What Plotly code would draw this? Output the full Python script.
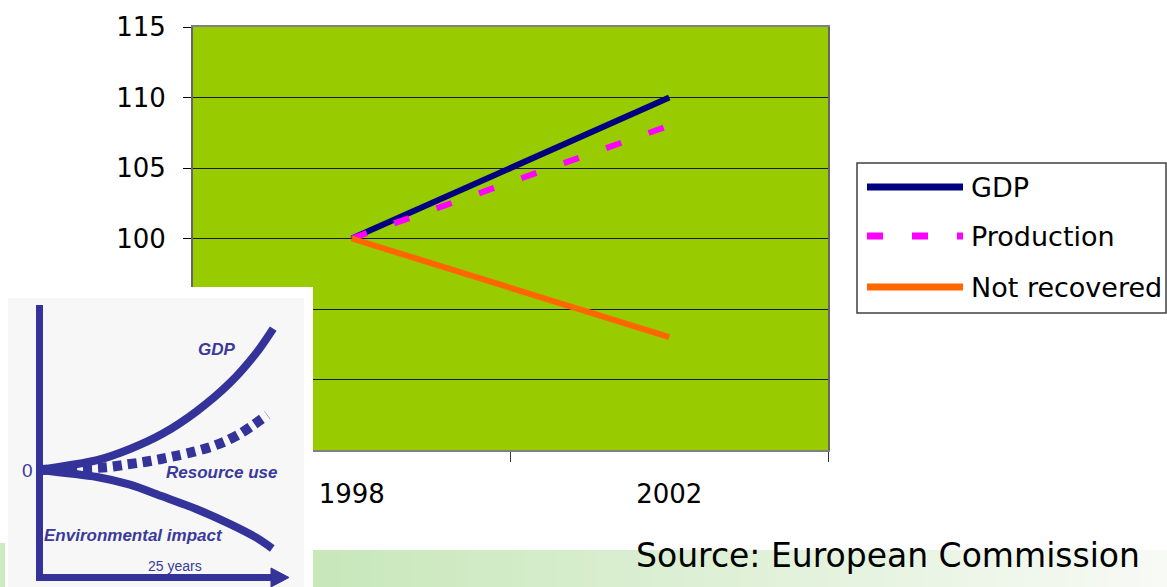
import plotly.graph_objects as go

W, H = 1167, 587

# ---------------- data ----------------
years = ["1998", "2002"]
gdp = [100, 110]
production = [100, 108]
not_recovered = [100, 93]
series_names = ["GDP", "Production", "Not recovered"]
y_ticks = [85, 90, 95, 100, 105, 110, 115]

# inset schematic (x: years 0-25, y: relative units)
inset_gdp_x = [0, 6.1, 9.5, 12.9, 16.4, 19.8, 22.6, 24.3]
inset_gdp_y = [0, 0.7, 1.5, 2.6, 4.2, 6.2, 8.4, 10.1]
inset_res_x = [0, 7.1, 9.2, 10.8, 12.6, 14.4, 16.0, 17.8, 19.5, 20.9, 22.2, 23.7]
inset_res_y = [0, 0.2, 0.4, 0.55, 0.77, 1.03, 1.29, 1.64, 2.1, 2.6, 3.2, 3.93]
inset_env_x = [0, 6.1, 9.5, 12.9, 16.4, 19.8, 22.6, 24.2]
inset_env_y = [0, -0.5, -1.05, -1.9, -2.8, -3.85, -4.85, -5.6]
inset_labels = ["GDP", "Resource use", "Environmental impact"]

# ---------------- helpers (pixel -> paper / inset coords) ----------------
def px(x):
    return x / W

def py(y):
    return 1 - y / H

def ix(p):
    return (p - 38) / 242 * 25

def iy(p):
    return (470 - p) / 14

FONT = "DejaVu Sans"
NAVY = "#000080"
MAGENTA = "#FF00FF"
ORANGE = "#FF6600"
INK = "#333399"
PDASH = "16px,29px"

fig = go.Figure()

fig.add_trace(go.Scatter(x=years, y=gdp, name=series_names[0], mode="lines",
                         line=dict(color=NAVY, width=6), showlegend=False))
fig.add_trace(go.Scatter(x=years, y=production, name=series_names[1], mode="lines",
                         line=dict(color=MAGENTA, width=6, dash=PDASH), showlegend=False))
fig.add_trace(go.Scatter(x=years, y=not_recovered, name=series_names[2], mode="lines",
                         line=dict(color=ORANGE, width=6), showlegend=False))

# inset traces
fig.add_trace(go.Scatter(x=inset_gdp_x, y=inset_gdp_y, xaxis="x2", yaxis="y2", mode="lines",
                         line=dict(color=INK, width=8, shape="spline", smoothing=0.8), showlegend=False))
fig.add_trace(go.Scatter(x=inset_res_x, y=inset_res_y, xaxis="x2", yaxis="y2", mode="lines",
                         line=dict(color=INK, width=10, dash="9px,6px", shape="spline", smoothing=0.8),
                         showlegend=False))
fig.add_trace(go.Scatter(x=inset_env_x, y=inset_env_y, xaxis="x2", yaxis="y2", mode="lines",
                         line=dict(color=INK, width=8, shape="spline", smoothing=0.8), showlegend=False))

shapes = []
# bottom decorative green band (gradient approximated by thin segments)
n = 60
x_start, x_end = 313, 1167
c0 = (200, 232, 186)
c1 = (248, 250, 246)
for i in range(n):
    t = i / (n - 1)
    c = tuple(int(c0[k] + (c1[k] - c0[k]) * t) for k in range(3))
    xa = x_start + (x_end - x_start) * i / n
    xb = x_start + (x_end - x_start) * (i + 1) / n + 1
    shapes.append(dict(type="rect", xref="paper", yref="paper", layer="below",
                       x0=px(xa), x1=px(xb), y0=py(587), y1=py(550),
                       fillcolor="rgb(%d,%d,%d)" % c, line=dict(width=0)))

# inset background panels (drawn inside inset subplot so they cover main plot)
shapes.append(dict(type="rect", xref="x2", yref="y2", layer="below",
                   x0=ix(0), x1=ix(313), y0=iy(590), y1=iy(287),
                   fillcolor="white", line=dict(width=0)))
shapes.append(dict(type="rect", xref="x2", yref="y2", layer="below",
                   x0=ix(0), x1=ix(5), y0=iy(590), y1=iy(543),
                   fillcolor="rgb(205,234,192)", line=dict(width=0)))
shapes.append(dict(type="rect", xref="x2", yref="y2", layer="below",
                   x0=ix(8), x1=ix(304), y0=iy(590), y1=iy(298),
                   fillcolor="#F7F7F7", line=dict(width=0)))
# inset axes
shapes.append(dict(type="line", xref="x2", yref="y2", layer="below",
                   x0=ix(39.5), x1=ix(39.5), y0=iy(305), y1=iy(581),
                   line=dict(color=INK, width=7)))
shapes.append(dict(type="line", xref="x2", yref="y2", layer="below",
                   x0=ix(36), x1=ix(274), y0=iy(577.5), y1=iy(577.5),
                   line=dict(color=INK, width=7)))
shapes.append(dict(type="path", xref="x2", yref="y2", layer="below",
                   path="M %f,%f L %f,%f L %f,%f Z" % (ix(271), iy(568), ix(289), iy(577.5), ix(271), iy(587)),
                   fillcolor=INK, line=dict(color=INK, width=1)))

# custom legend
shapes.append(dict(type="rect", xref="paper", yref="paper", layer="above",
                   x0=px(857), x1=px(1166), y0=py(313), y1=py(163),
                   fillcolor="white", line=dict(color="#404040", width=1.5)))
leg_y = [187, 236, 287]
leg_style = [dict(color=NAVY, width=7), dict(color=MAGENTA, width=7, dash=PDASH), dict(color=ORANGE, width=7)]
for yy, st in zip(leg_y, leg_style):
    shapes.append(dict(type="line", xref="paper", yref="paper", layer="above",
                       x0=px(867), x1=px(963), y0=py(yy), y1=py(yy), line=st))

annotations = []
for yy, name in zip(leg_y, series_names):
    annotations.append(dict(text=name, xref="paper", yref="paper", x=px(969), y=py(yy),
                            xanchor="left", yanchor="middle", showarrow=False,
                            font=dict(family=FONT, size=27, color="black")))

annotations.append(dict(text="Source: European Commission", xref="paper", yref="paper",
                        x=px(634), y=py(555), xanchor="left", yanchor="middle", showarrow=False,
                        font=dict(family=FONT, size=33, color="black")))

IFONT = "Liberation Sans"
inset_label_pos = [(217, 349, 17), (222, 472, 17), (133, 535, 17)]
for (xx, yy, fs), txt in zip(inset_label_pos, inset_labels):
    annotations.append(dict(text="<b><i>%s</i></b>" % txt, xref="paper", yref="paper",
                            x=px(xx), y=py(yy), xanchor="center", yanchor="middle", showarrow=False,
                            font=dict(family=IFONT, size=fs, color="#3A3A9C")))
annotations.append(dict(text="25 years", xref="paper", yref="paper", x=px(175), y=py(566),
                        xanchor="center", yanchor="middle", showarrow=False,
                        font=dict(family=IFONT, size=14, color="#3A3A9C")))
annotations.append(dict(text="0", xref="paper", yref="paper", x=px(27), y=py(470),
                        xanchor="center", yanchor="middle", showarrow=False,
                        font=dict(family=IFONT, size=19, color="#3A3A9C")))

fig.update_layout(
    width=W, height=H,
    margin=dict(l=0, r=0, t=0, b=0, autoexpand=False),
    paper_bgcolor="white",
    plot_bgcolor="#99CC00",
    font=dict(family=FONT, color="black"),
    xaxis=dict(domain=[px(193), px(828)], type="category", range=[-0.5, 1.5],
               tickson="boundaries", ticks="outside", ticklen=10, tickwidth=1, tickcolor="#333",
               showgrid=False, zeroline=False, showline=True, linecolor="#808080", linewidth=2,
               mirror=True, tickfont=dict(family=FONT, size=26, color="black"),
               ticklabelstandoff=20, automargin=False),
    yaxis=dict(domain=[py(450), py(27)], range=[85, 115], tickvals=y_ticks,
               ticks="outside", ticklen=8, tickwidth=1, tickcolor="black",
               showgrid=True, gridcolor="#1a1a1a", gridwidth=1, zeroline=False,
               showline=True, linecolor="#666666", linewidth=2, mirror=True,
               tickfont=dict(family=FONT, size=26, color="black"), ticklabelstandoff=12,
               automargin=False),
    xaxis2=dict(domain=[0, px(313)], range=[ix(0), ix(313)], visible=False, anchor="y2",
                showgrid=False, zeroline=False, fixedrange=True, automargin=False),
    yaxis2=dict(domain=[0, py(287)], range=[iy(587), iy(287)], visible=False, anchor="x2",
                showgrid=False, zeroline=False, fixedrange=True, automargin=False),
    shapes=shapes,
    annotations=annotations,
    showlegend=False,
)

fig.write_html("out.html")
